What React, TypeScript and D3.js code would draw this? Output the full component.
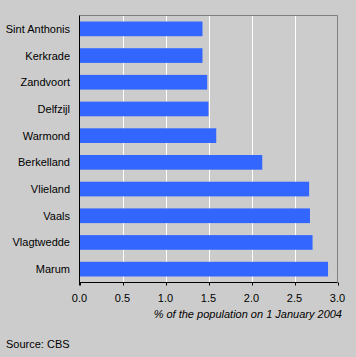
import React from "react";
import * as d3 from "d3";

const categories = ["Sint Anthonis", "Kerkrade", "Zandvoort", "Delfzijl", "Warmond", "Berkelland", "Vlieland", "Vaals", "Vlagtwedde", "Marum"];
const values = [1.43, 1.43, 1.485, 1.5, 1.59, 2.125, 2.67, 2.68, 2.71, 2.89];
const ticks = [0, 0.5, 1.0, 1.5, 2.0, 2.5, 3.0];
const axisTitle = "% of the population on 1 January 2004";
const source = "Source: CBS";

export default function App() {
  const W = 356, H = 357;
  const left = 79.5, right = 337.5, top = 15.5, bottom = 282.5;
  const x = d3.scaleLinear().domain([0, 3]).range([left, right]);
  const y = d3.scaleBand().domain(categories).range([top, bottom]).paddingInner(0.45).paddingOuter(0.225);
  const font = "Arial, 'Liberation Sans', Helvetica, sans-serif";
  return (
    <svg width={W} height={H} style={{ position: "absolute", left: 0, top: 0, display: "block" }}>
      <rect x={0} y={0} width={W} height={H} fill="#cccccc" />
      {ticks.slice(1, -1).map((t) => (
        <line key={t} x1={Math.round(x(t)) + 0.5} x2={Math.round(x(t)) + 0.5} y1={top} y2={bottom} stroke="#ffffff" strokeWidth={1} />
      ))}
      <line x1={left} x2={right} y1={top} y2={top} stroke="#808080" />
      <line x1={right} x2={right} y1={top} y2={bottom} stroke="#808080" />
      {categories.map((c, i) => (
        <rect key={c} x={x(0)} y={y(c)!} width={x(values[i]) - x(0)} height={y.bandwidth()} fill="#3366ff" />
      ))}
      <line x1={left} x2={left} y1={top} y2={bottom + 3} stroke="#000" />
      <line x1={left} x2={right} y1={bottom} y2={bottom} stroke="#000" />
      {ticks.map((t) => (
        <line key={"t" + t} x1={Math.round(x(t)) + 0.5} x2={Math.round(x(t)) + 0.5} y1={bottom} y2={bottom + 3} stroke="#000" />
      ))}
      {ticks.map((t) => (
        <text key={"l" + t} x={x(t)} y={302} textAnchor="middle" fontFamily={font} fontSize={11} fill="#000">
          {t.toFixed(1)}
        </text>
      ))}
      {categories.map((c) => (
        <text key={"c" + c} x={70} y={y(c)! + y.bandwidth() / 2 + 4} textAnchor="end" fontFamily={font} fontSize={11} fill="#000">
          {c}
        </text>
      ))}
      <text x={342} y={318} textAnchor="end" fontFamily={font} fontSize={11} fontStyle="italic" fill="#000">
        {axisTitle}
      </text>
      <text x={6} y={348} fontFamily={font} fontSize={11} fill="#000">
        {source}
      </text>
    </svg>
  );
}
